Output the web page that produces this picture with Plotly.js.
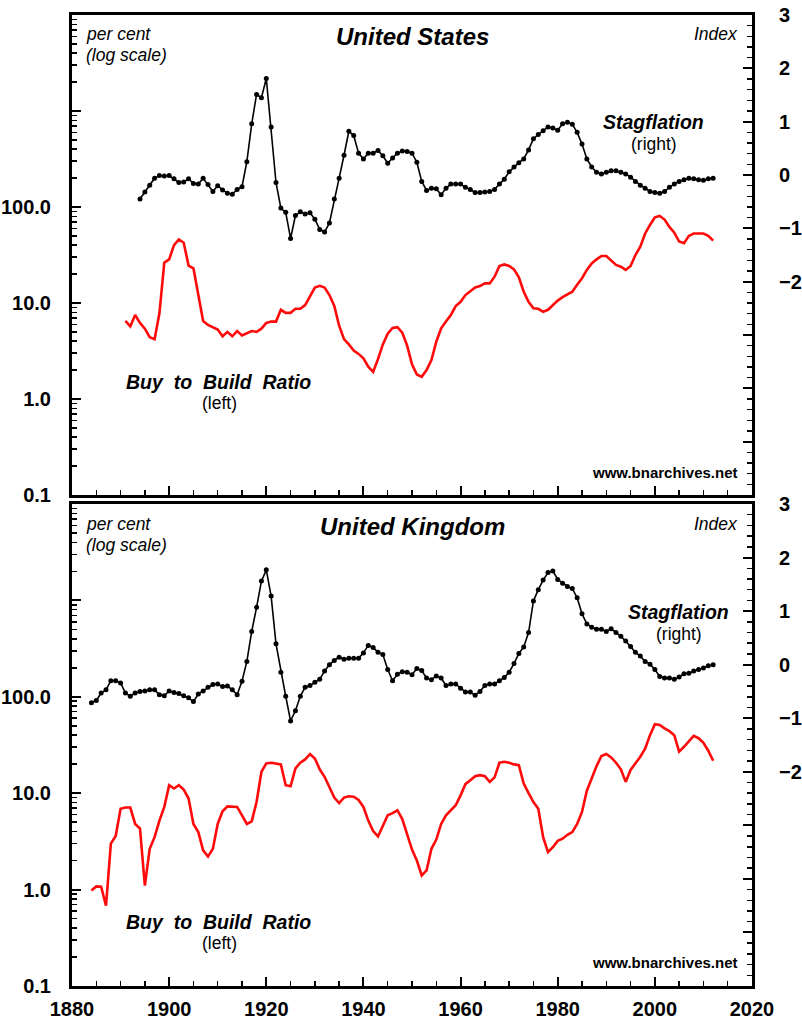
<!DOCTYPE html>
<html>
<head>
<meta charset="utf-8">
<script src="https://cdn.plot.ly/plotly-3.0.1.min.js"></script>
<style>
  html, body { margin: 0; padding: 0; background: #fff; }
  #chart { width: 802px; height: 1023px; }
</style>
</head>
<body>
<div id="chart"></div>
<script>
// ---------------- DATA ----------------
const usStagStart = 1894;
const usStag = [
  -0.45, -0.32, -0.19, -0.06, -0.01, -0.02, -0.01, -0.07, -0.14, -0.13,
  -0.07, -0.16, -0.17, -0.06, -0.18, -0.31, -0.20, -0.28, -0.34, -0.36,
  -0.27, -0.22, 0.25, 0.96, 1.51, 1.45, 1.81, 0.90, -0.14, -0.62,
  -0.70, -1.19, -0.76, -0.69, -0.73, -0.71, -0.83, -1.02, -1.07, -0.90,
  -0.45, -0.06, 0.37, 0.82, 0.74, 0.41, 0.30, 0.41, 0.41, 0.46,
  0.36, 0.22, 0.32, 0.41, 0.45, 0.44, 0.41, 0.24, -0.12, -0.29,
  -0.25, -0.26, -0.37, -0.25, -0.17, -0.17, -0.17, -0.23, -0.27, -0.33,
  -0.33, -0.32, -0.31, -0.27, -0.17, -0.08, 0.06, 0.15, 0.23, 0.30,
  0.47, 0.68, 0.76, 0.83, 0.90, 0.88, 0.84, 0.96, 0.99, 0.95,
  0.80, 0.58, 0.30, 0.15, 0.05, 0.02, 0.05, 0.08, 0.08, 0.05,
  0.02, -0.04, -0.12, -0.19, -0.25, -0.31, -0.33, -0.34, -0.31, -0.23,
  -0.17, -0.12, -0.09, -0.06, -0.07, -0.09, -0.10, -0.07, -0.06
];

const usBtbStart = 1891;
const usBtb = [
  6.5, 5.7, 7.5, 6.2, 5.4, 4.4, 4.2, 7.8, 26.3, 28.5,
  40, 46, 42.5, 24.5, 23, 12.1, 6.5, 5.9, 5.6, 5.3,
  4.5, 5.0, 4.5, 5.1, 4.6, 4.8, 5.1, 5.0, 5.4, 6.2,
  6.4, 6.4, 8.5, 7.9, 7.9, 8.7, 8.7, 9.5, 11.6, 14.5,
  15.1, 14.5, 12.1, 9.3, 5.8, 4.2, 3.7, 3.2, 2.95, 2.65,
  2.17, 1.92, 2.6, 3.7, 4.8, 5.5, 5.6, 4.9, 3.6, 2.3,
  1.8, 1.7, 2.0, 2.55, 3.95, 5.45, 6.4, 7.5, 9.3, 10.3,
  12.1, 13.4, 14.5, 15.0, 16.0, 16.0, 18.8, 24.3, 25.2, 24.3,
  22.4, 18.5, 13.1, 10.3, 8.8, 8.7, 8.1, 8.5, 9.5, 10.6,
  11.5, 12.2, 13.1, 15.5, 18.1, 22.1, 25.8, 28.5, 30.9, 30.9,
  28, 24.9, 23.9, 22.1, 24.3, 31.6, 38.6, 53, 65, 78,
  80.6, 74, 62, 54, 43.7, 41.9, 50, 53, 53, 53,
  50.2, 44.7
];

const ukStagStart = 1884;
const ukStag = [
  -0.71, -0.67, -0.53, -0.47, -0.30, -0.30, -0.34, -0.53, -0.59, -0.53,
  -0.50, -0.49, -0.47, -0.47, -0.56, -0.58, -0.49, -0.52, -0.54, -0.58,
  -0.62, -0.69, -0.55, -0.49, -0.42, -0.37, -0.36, -0.41, -0.40, -0.47,
  -0.56, -0.31, 0.06, 0.62, 1.07, 1.56, 1.77, 1.28, 0.39, -0.14,
  -0.59, -1.05, -0.86, -0.59, -0.42, -0.39, -0.33, -0.27, -0.12, 0.00,
  0.08, 0.14, 0.10, 0.12, 0.12, 0.12, 0.22, 0.36, 0.32, 0.23,
  0.19, -0.09, -0.30, -0.18, -0.13, -0.14, -0.19, -0.07, -0.11, -0.25,
  -0.28, -0.21, -0.25, -0.39, -0.36, -0.36, -0.44, -0.51, -0.51, -0.57,
  -0.50, -0.39, -0.36, -0.36, -0.30, -0.24, -0.14, 0.02, 0.21, 0.33,
  0.60, 1.19, 1.40, 1.58, 1.72, 1.75, 1.59, 1.52, 1.46, 1.42,
  1.25, 0.95, 0.76, 0.70, 0.66, 0.66, 0.62, 0.67, 0.60, 0.53,
  0.44, 0.34, 0.23, 0.16, 0.06, 0.01, -0.09, -0.22, -0.25, -0.25,
  -0.27, -0.23, -0.17, -0.16, -0.12, -0.09, -0.06, -0.02, 0.00
];

const ukBtbStart = 1884;
const ukBtb = [
  0.98, 1.08, 1.07, 0.68, 3.0, 3.6, 6.9, 7.1, 7.1, 4.8,
  4.3, 1.1, 2.65, 3.5, 5.2, 7.2, 12.1, 11.2, 12.1, 10.9,
  8.8, 4.8, 3.95, 2.55, 2.2, 2.65, 4.8, 6.5, 7.3, 7.3,
  7.2, 5.9, 4.8, 5.1, 8.1, 16.7, 20.4, 20.7, 20.4, 19.9,
  12.1, 11.8, 18.1, 20.7, 22.4, 25.5, 22.9, 17.7, 14.8, 11.6,
  9.0, 7.9, 9.0, 9.3, 9.2, 8.5, 7.2, 5.2, 4.05, 3.56,
  4.5, 5.9, 6.2, 6.65, 5.4, 3.8, 2.6, 2.0, 1.4, 1.58,
  2.65, 3.3, 4.8, 5.9, 6.6, 7.5, 9.5, 12.4, 13.6, 15.0,
  15.4, 15.0, 13.1, 14.6, 20.7, 21.2, 20.7, 19.9, 19.5, 12.6,
  10.0, 8.1, 6.9, 3.5, 2.45, 2.75, 3.2, 3.37, 3.7, 3.95,
  4.8, 6.4, 10.6, 14.2, 19.1, 24.3, 25.5, 23.5, 20.7, 17.7,
  13.1, 17.4, 20.4, 23.9, 29, 40, 52, 51, 47, 44,
  40, 27, 30.3, 34.2, 39.3, 37.2, 33.4, 27.6, 21.7
];

const xTickVals = [1880, 1900, 1920, 1940, 1960, 1980, 2000, 2020];
const logTickVals = [0.1, 1, 10, 100, 1000, 10000];
const logTickText = ['0.1', '1.0', '10.0', '100.0', '', ''];
const rightTickVals = [-6, -5, -4, -3, -2, -1, 0, 1, 2, 3];
const rightTickText = ['', '', '', '', '\u22122', '\u22121', '0', '1', '2', '3'];

// ---------------- HELPERS ----------------
function yearsFrom(start, n) { const a = []; for (let i = 0; i < n; i++) a.push(start + i); return a; }
const logMinor = [];
[0.1, 1, 10, 100, 1000].forEach(d => { for (let k = 2; k <= 9; k++) logMinor.push(d * k); });

const FONT = 'Liberation Sans, Arial, Helvetica, sans-serif';
const tickFont = { family: FONT, size: 20, color: '#000', weight: 'bold' };

// plot area in pixels: left 72, right 752, top 15, bottom 986
const L = 72, R = 752, T = 15, B = 986;
const px = x => (x - L) / (R - L);
const py = y => (B - y) / (B - T);

const topDom = [py(495), 1];
const botDom = [0, py(504)];

function xAxis(anchor, labels) {
  return {
    domain: [0, 1], anchor: anchor, range: [1880, 2020],
    tickmode: 'array', tickvals: xTickVals, showticklabels: labels,
    ticks: 'inside', ticklen: 9, tickwidth: 2, tickcolor: '#000',
    minor: { dtick: 5, tick0: 1880, ticks: 'inside', ticklen: 5, tickwidth: 1.5, tickcolor: '#000', showgrid: false },
    showline: true, linewidth: 3, linecolor: '#000', mirror: true,
    showgrid: false, zeroline: false, tickfont: tickFont, ticklabelstandoff: 3
  };
}
function logAxis(dom, anchor) {
  return {
    domain: dom, anchor: anchor, type: 'log', range: [-1, 4],
    tickmode: 'array', tickvals: logTickVals, ticktext: logTickText,
    ticks: 'inside', ticklen: 9, tickwidth: 2, tickcolor: '#000',
    minor: { tickmode: 'array', tickvals: logMinor, ticks: 'inside', ticklen: 5, tickwidth: 1.5, tickcolor: '#000', showgrid: false },
    showline: true, linewidth: 3, linecolor: '#000', mirror: true,
    showgrid: false, zeroline: false, tickfont: tickFont, ticklabelstandoff: 14
  };
}
function rightAxis(over, anchor) {
  return {
    overlaying: over, anchor: anchor, side: 'right', range: [-6, 3],
    tickmode: 'array', tickvals: rightTickVals, ticktext: rightTickText,
    ticks: 'inside', ticklen: 9, tickwidth: 2, tickcolor: '#000',
    minor: { dtick: 0.2, tick0: 0, ticks: 'inside', ticklen: 5, tickwidth: 1.5, tickcolor: '#000', showgrid: false },
    showline: true, linewidth: 3, linecolor: '#000',
    showgrid: false, zeroline: false, tickfont: tickFont, ticklabelstandoff: 20
  };
}

const stagStyle = { mode: 'lines+markers', line: { color: '#000', width: 1.6 }, marker: { color: '#000', size: 5 } };
const btbStyle = { mode: 'lines', line: { color: '#ff0a0a', width: 2.6 } };

const traces = [
  Object.assign({ x: yearsFrom(usBtbStart, usBtb.length), y: usBtb, xaxis: 'x2', yaxis: 'y', name: 'US Buy to Build' }, btbStyle),
  Object.assign({ x: yearsFrom(usStagStart, usStag.length), y: usStag, xaxis: 'x2', yaxis: 'y2', name: 'US Stagflation' }, stagStyle),
  Object.assign({ x: yearsFrom(ukBtbStart, ukBtb.length), y: ukBtb, xaxis: 'x', yaxis: 'y3', name: 'UK Buy to Build' }, btbStyle),
  Object.assign({ x: yearsFrom(ukStagStart, ukStag.length), y: ukStag, xaxis: 'x', yaxis: 'y4', name: 'UK Stagflation' }, stagStyle)
];

function ann(text, x, y, opts) {
  return Object.assign({
    text: text, x: px(x), y: py(y), xref: 'paper', yref: 'paper',
    showarrow: false, xanchor: 'center', yanchor: 'middle', borderpad: 0,
    font: { family: FONT, size: 16, color: '#000' }
  }, opts || {});
}
const bi = (s) => ({ family: FONT, size: s, color: '#000', weight: 'bold', style: 'italic' });
const it = (s) => ({ family: FONT, size: s, color: '#000', style: 'italic' });
const rg = (s) => ({ family: FONT, size: s, color: '#000' });
const bd = (s) => ({ family: FONT, size: s, color: '#000', weight: 'bold' });

function panelAnns(title, dy, stagX, stagY, btbY, wwwY) {
  return [
    ann(title, 412, 36 + dy, { font: bi(24) }),
    ann('per cent', 85, 34 + dy, { xanchor: 'left', font: it(17.5) }),
    ann('(log scale)', 85, 55 + dy, { xanchor: 'left', font: it(17.5) }),
    ann('Index', 739, 34 + dy, { xanchor: 'right', font: it(17.5) }),
    ann('Stagflation', stagX, stagY, { font: bi(19.5) }),
    ann('(right)', stagX + 1, stagY + 22, { font: rg(17.5) }),
    ann('Buy\u00A0 to\u00A0 Build\u00A0 Ratio', 218, btbY, { font: bi(19.5) }),
    ann('(left)', 219, btbY + 21, { font: rg(17.5) }),
    ann('www.bnarchives.net', 739, wwwY, { xanchor: 'right', font: bd(15) })
  ];
}

const layout = {
  width: 802, height: 1023,
  margin: { l: L, r: 802 - R, t: T, b: 1023 - B, pad: 0 },
  paper_bgcolor: '#fff', plot_bgcolor: 'rgba(0,0,0,0)',
  showlegend: false,
  xaxis: xAxis('y3', true),
  xaxis2: xAxis('y', false),
  yaxis: logAxis(topDom, 'x2'),
  yaxis2: rightAxis('y', 'x2'),
  yaxis3: logAxis(botDom, 'x'),
  yaxis4: rightAxis('y3', 'x'),
  annotations: [].concat(
    panelAnns('United States', 0, 653, 122, 382, 472),
    panelAnns('United Kingdom', 490, 678, 612, 922, 962)
  )
};

Plotly.newPlot('chart', traces, layout, { displayModeBar: false, staticPlot: true });
</script>
</body>
</html>
